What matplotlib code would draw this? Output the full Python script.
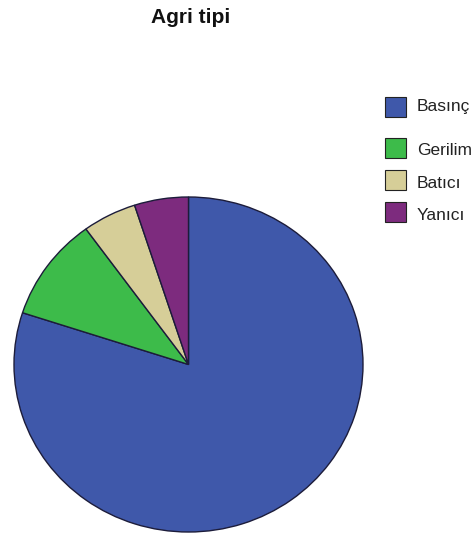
import matplotlib.pyplot as plt
from matplotlib.patches import Rectangle

# Pain type distribution (percent)
categories = ['Basınç', 'Gerilim', 'Batıcı', 'Yanıcı']
shares = [80, 10, 5, 5]
colors = ['#3f58aa', '#3dbb4a', '#d6ce98', '#7d2b7e']

W, H = 477, 535
fig = plt.figure(figsize=(W / 100, H / 100), dpi=100)
plt.rcParams['font.family'] = ['Liberation Sans', 'DejaVu Sans']

# pie area in pixels: left 14, right 363, top 197, bottom 532
ax = fig.add_axes([14 / W, (H - 532) / H, (363 - 14) / W, (532 - 197) / H])
ax.pie(shares, colors=colors, startangle=90, counterclock=False,
       wedgeprops=dict(edgecolor='#1c1c3a', linewidth=1.0))
ax.set_aspect('auto')
ax.set_xlim(-1, 1)
ax.set_ylim(-1, 1)
ax.axis('off')

fig.text(191 / W, 1 - 23 / H, 'Agri tipi', ha='center', va='baseline',
         fontsize=15, fontweight='bold', color='#111111')

# legend entries: box centre and text baseline (pixels from top)
box_y = [107, 148, 180, 212]
text_y = [111, 155, 188, 220]
for name, col, yb, yt in zip(categories, colors, box_y, text_y):
    fig.patches.append(Rectangle((385 / W, 1 - (yb + 10) / H), 21 / W, 20 / H,
                                 transform=fig.transFigure, facecolor=col,
                                 edgecolor='#222222', linewidth=0.8))
    fig.text(417 / W, 1 - yt / H, name, ha='left', va='baseline',
             fontsize=12.5, color='#222222')

fig.savefig('out.png', dpi=100)
